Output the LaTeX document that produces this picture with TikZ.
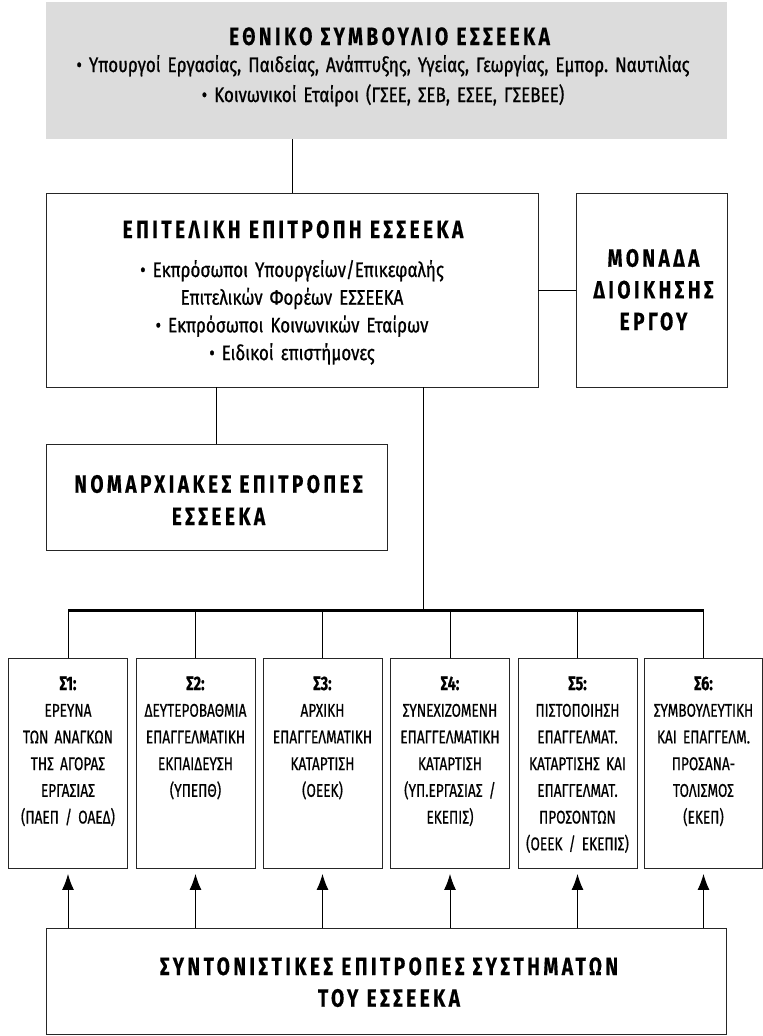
\documentclass[tikz,border=0pt]{standalone}
\usepackage{fontspec}
\setmainfont{Fira Sans}[FakeStretch=0.8]
\newfontfamily\bodyf{Fira Sans}[FakeStretch=0.81,FakeBold=0.8]
\newfontfamily\sfnt{Fira Sans}[FakeStretch=0.74,FakeBold=0.6]
\newfontfamily\ttlf{Fira Sans}[FakeStretch=0.76,LetterSpace=14,WordSpace=2,FakeBold=0.4]
\usetikzlibrary{arrows.meta}
\definecolor{panel}{HTML}{DCDCDC}
\frenchspacing
\begin{document}
\begin{tikzpicture}[x=1bp,y=-1bp,
  box/.style={draw=black!85, line width=0.9bp, inner sep=0pt, fill=white},
  sbox/.style={box, minimum width=119bp, minimum height=210bp},
  conn/.style={line width=1bp, draw=black},
  busline/.style={line width=3bp, draw=black},
  arr/.style={line width=1bp, draw=black, -{Latex[length=16bp,width=12bp]}, shorten >=5.5bp},
  ttl/.style={inner sep=0pt, anchor=base, text width=700bp, align=center,
    font=\ttlf\bfseries\fontsize{25bp}{#1}\selectfont},
  ttl/.default=30bp,
  body/.style={inner sep=0pt, anchor=base, text width=700bp, align=center,
    font=\bodyf\fontsize{21bp}{#1}\selectfont},
  body/.default=30bp,
  stx/.style={inner sep=0pt, anchor=base, text width=140bp, align=center,
    font=\sfnt\fontsize{18.4bp}{26.7bp}\selectfont},
]
\useasboundingbox (0,0) rectangle (763,1036);

% national council
\node[box, draw=none, fill=panel, minimum width=681bp, minimum height=137bp] (g) at (386.5,70.5) {};
\node[ttl] (gt) at (389.5,45) {ΕΘΝΙΚΟ ΣΥΜΒΟΥΛΙΟ ΕΣΣΕΕΚΑ};
\node[body=30bp] (gb) at (383,72) {• Υπουργοί Εργασίας, Παιδείας, Ανάπτυξης, Υγείας, Γεωργίας, Εμπορ. Ναυτιλίας\\• Κοινωνικοί Εταίροι (ΓΣΕΕ, ΣΕΒ, ΕΣΕΕ, ΓΣΕΒΕΕ)};

% executive committee
\node[box, minimum width=492bp, minimum height=194bp] (e) at (292,290) {};
\node[ttl] (et) at (293,238) {ΕΠΙΤΕΛΙΚΗ ΕΠΙΤΡΟΠΗ ΕΣΣΕΕΚΑ};
\node[body=27.7bp] (eb) at (292,277) {• Εκπρόσωποι Υπουργείων/Επικεφαλής\\Επιτελικών Φορέων ΕΣΣΕΕΚΑ\\• Εκπρόσωποι Κοινωνικών Εταίρων\\• Ειδικοί επιστήμονες};

% project management unit
\node[box, minimum width=151bp, minimum height=194bp] (m) at (651.5,290) {};
\node[ttl=31.7bp] (mt) at (653.5,266.7) {ΜΟΝΑΔΑ\\ΔΙΟΙΚΗΣΗΣ\\ΕΡΓΟΥ};

% prefectural committees
\node[box, minimum width=341bp, minimum height=106bp] (n) at (216.5,497) {};
\node[ttl=32.3bp] (nt) at (218.5,492.7) {ΝΟΜΑΡΧΙΑΚΕΣ ΕΠΙΤΡΟΠΕΣ\\ΕΣΣΕΕΚΑ};

% subsystems
\node[sbox] (s1) at (68,763) {};
\node[sbox] (s2) at (195.5,763) {};
\node[sbox] (s3) at (322.5,763) {};
\node[sbox] (s4) at (450,763) {};
\node[sbox] (s5) at (577.5,763) {};
\node[sbox, minimum width=118bp] (s6) at (703.5,763) {};

\node[stx] (s1t) at (68,690) {{\bfseries\fontsize{19.5bp}{26.7bp}\selectfont Σ1:}\\ΕΡΕΥΝΑ\\ΤΩΝ ΑΝΑΓΚΩΝ\\ΤΗΣ ΑΓΟΡΑΣ\\ΕΡΓΑΣΙΑΣ\\(ΠΑΕΠ / ΟΑΕΔ)};
\node[stx] (s2t) at (195.5,690) {{\bfseries\fontsize{19.5bp}{26.7bp}\selectfont Σ2:}\\ΔΕΥΤΕΡΟΒΑΘΜΙΑ\\ΕΠΑΓΓΕΛΜΑΤΙΚΗ\\ΕΚΠΑΙΔΕΥΣΗ\\(ΥΠΕΠΘ)};
\node[stx] (s3t) at (322.5,690) {{\bfseries\fontsize{19.5bp}{26.7bp}\selectfont Σ3:}\\ΑΡΧΙΚΗ\\ΕΠΑΓΓΕΛΜΑΤΙΚΗ\\ΚΑΤΑΡΤΙΣΗ\\(ΟΕΕΚ)};
\node[stx] (s4t) at (450,690) {{\bfseries\fontsize{19.5bp}{26.7bp}\selectfont Σ4:}\\ΣΥΝΕΧΙΖΟΜΕΝΗ\\ΕΠΑΓΓΕΛΜΑΤΙΚΗ\\ΚΑΤΑΡΤΙΣΗ\\(ΥΠ.ΕΡΓΑΣΙΑΣ /\\ΕΚΕΠΙΣ)};
\node[stx] (s5t) at (577.5,690) {{\bfseries\fontsize{19.5bp}{26.7bp}\selectfont Σ5:}\\ΠΙΣΤΟΠΟΙΗΣΗ\\ΕΠΑΓΓΕΛΜΑΤ.\\ΚΑΤΑΡΤΙΣΗΣ ΚΑΙ\\ΕΠΑΓΓΕΛΜΑΤ.\\ΠΡΟΣΟΝΤΩΝ\\(ΟΕΕΚ / ΕΚΕΠΙΣ)};
\node[stx] (s6t) at (703.5,690) {{\bfseries\fontsize{19.5bp}{26.7bp}\selectfont Σ6:}\\ΣΥΜΒΟΥΛΕΥΤΙΚΗ\\ΚΑΙ ΕΠΑΓΓΕΛΜ.\\ΠΡΟΣΑΝΑ-\\ΤΟΛΙΣΜΟΣ\\(ΕΚΕΠ)};

% coordinating committees
\node[box, minimum width=680bp, minimum height=106bp] (b) at (386,981) {};
\node[ttl=31.7bp] (bt) at (389,975) {ΣΥΝΤΟΝΙΣΤΙΚΕΣ ΕΠΙΤΡΟΠΕΣ ΣΥΣΤΗΜΑΤΩΝ\\ΤΟΥ ΕΣΣΕΕΚΑ};

% connectors
\coordinate (bj) at (423,610);
\draw[conn] (e.north |- g.south) -- (e.north);
\draw[conn] (e.east) -- (m.west);
\draw[conn] (n.north |- e.south) -- (n.north);
\draw[conn] (bj |- e.south) -- (bj);
\draw[busline] (s1.north |- bj) -- (s6.north |- bj);
\foreach \s in {s1,s2,s3,s4,s5,s6}{
  \draw[conn] (\s.north |- bj) -- (\s.north);
  \draw[arr] (\s.south |- b.north) -- (\s.south);
}
\end{tikzpicture}
\end{document}
